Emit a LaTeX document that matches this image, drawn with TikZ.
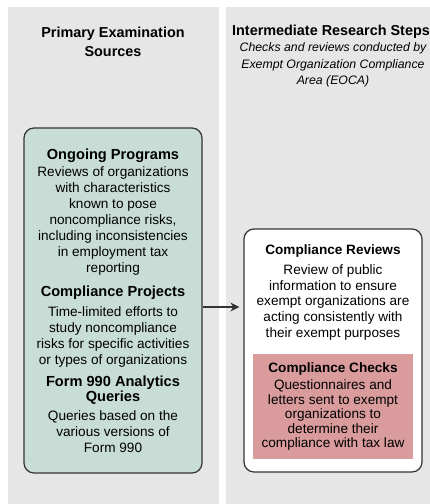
\documentclass[tikz,border=0pt]{standalone}
\usepackage{fontspec}
\usetikzlibrary{arrows.meta}
\setmainfont{Liberation Sans}
\definecolor{panelgray}{RGB}{230,230,230}
\definecolor{sourcegreen}{RGB}{200,221,214}
\definecolor{checkred}{RGB}{217,155,155}
\definecolor{edgegray}{RGB}{51,51,51}
\newcommand{\srctitle}[1]{{\fontsize{14.6}{16}\selectfont\bfseries #1}}
\newcommand{\steptitle}[1]{{\fontsize{13.6}{16}\selectfont\bfseries #1}}

\begin{document}
\begin{tikzpicture}[x=1pt,y=1pt,
	head/.style={align=center,inner sep=0pt,font=\fontsize{14.4}{19}\selectfont\bfseries},
	subhead/.style={align=center,inner sep=0pt,font=\fontsize{12.3}{16.7}\selectfont\itshape},
	srcbox/.style={draw=edgegray,line width=1.2pt,rounded corners=10pt,fill=sourcegreen,
		align=center,inner sep=0pt,minimum width=178,minimum height=345,
		font=\fontsize{13.6}{16}\selectfont},
	revbox/.style={draw=edgegray,line width=1.2pt,rounded corners=10pt,fill=white,
		inner sep=0pt,minimum width=178,minimum height=243},
	revtext/.style={align=center,inner sep=0pt,font=\fontsize{13.6}{15.8}\selectfont},
	chkbox/.style={fill=checkred,align=center,inner sep=0pt,minimum width=160,minimum height=105,
		font=\fontsize{13.6}{14.5}\selectfont},
	flow/.style={draw=edgegray,line width=2pt,-{Stealth[length=9pt,width=9pt]},shorten >=4pt}]
		\useasboundingbox (0,0) rectangle (430,-504);
		\fill[panelgray] (8,-7) rectangle (219,-504);
		\fill[panelgray] (226,-7) rectangle (430,-504);
		\node[head] (srchead) at (113,-41.5) {Primary Examination\\Sources};
		\node[head] (stephead) at (331,-32) {Intermediate Research Steps};
		\node[subhead] (stepsub) at (333,-65) {Checks and reviews conducted by\\Exempt Organization Compliance\\Area (EOCA)};
		\node[srcbox] (sources) at (113,-300.5) {\srctitle{Ongoing Programs}\\[1pt]
			Reviews of organizations\\with characteristics\\known to pose\\noncompliance risks,\\
			including inconsistencies\\in employment tax\\reporting\\[8pt]
			\srctitle{Compliance Projects}\\[4pt]
			Time-limited efforts to\\study noncompliance\\risks for specific activities\\or types of organizations\\[6pt]
			\srctitle{Form 990 Analytics}\\[-1pt]
			\srctitle{Queries}\\[3pt]
			Queries based on the\\various versions of\\Form 990};
		\node[revbox] (reviews) at (333,-350.5) {};
		\node[revtext] (revinfo) at (333,-292.5) {\steptitle{Compliance Reviews}\\[4pt]
			Review of public\\information to ensure\\exempt organizations are\\acting consistently with\\their exempt purposes};
		\node[chkbox] (checks) at (333,-406.5) {\steptitle{Compliance Checks}\\[3pt]
			Questionnaires and\\letters sent to exempt\\organizations to\\determine their\\compliance with tax law};
		\coordinate (arrowy) at (222,-307);
		\draw[flow] (sources.east |- arrowy) -- (reviews.west |- arrowy);
	\end{tikzpicture}
\end{document}
